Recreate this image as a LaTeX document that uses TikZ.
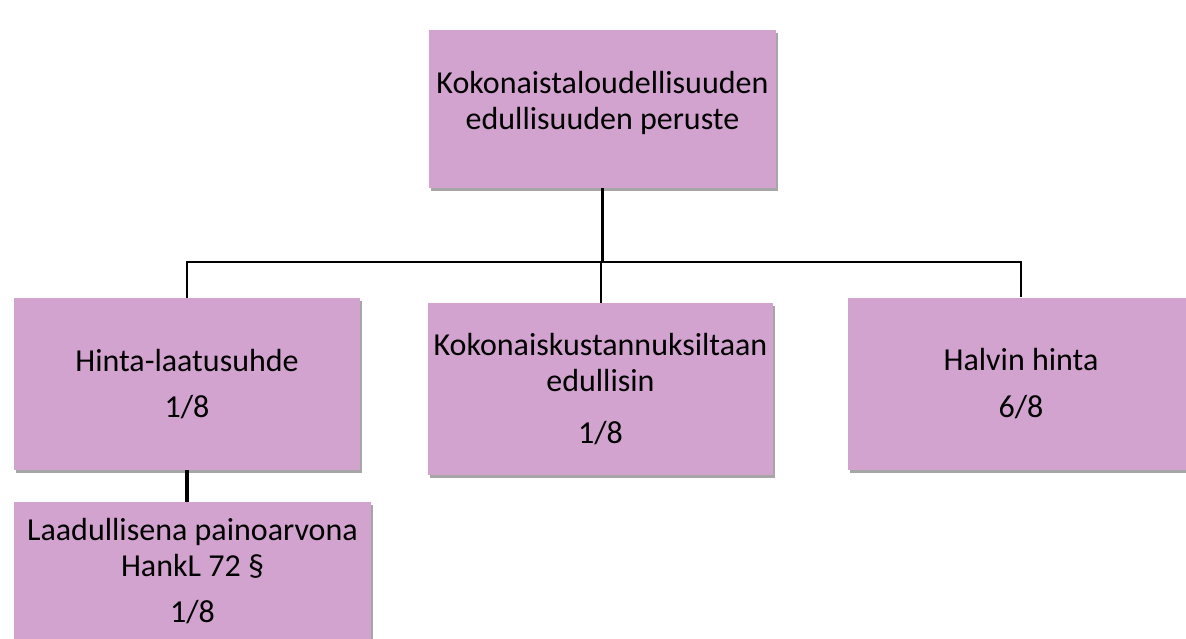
\documentclass[tikz,border=0pt]{standalone}
\usepackage{fontspec}
\setmainfont{Carlito}
\usetikzlibrary{positioning, shadows}
\definecolor{P}{RGB}{211,163,207}
\tikzstyle{box} = [rectangle,
fill=P,
text=black,
align=center,
inner sep=0pt,
font=\fontsize{24}{27}\selectfont,
drop shadow={shadow xshift=1.5pt, shadow yshift=-2.5pt, opacity=.35, fill=black}]
\tikzstyle{line} = [line width=1.5pt, black]
\tikzstyle{thickline} = [line width=3pt, black]

\begin{document}
\begin{tikzpicture}[
  x=0.75pt, y=-0.75pt, % pixel grid, y downwards
]
  \useasboundingbox (0,0) rectangle (1186,639);

  \node[box, minimum width=260pt, minimum height=118.5pt] (top) at (602.5,109)
    {Kokonaistaloudellisuuden\\edullisuuden peruste\rule[-13pt]{0pt}{0pt}};

  \node[box, minimum width=259.5pt, minimum height=129pt] (hinta)     at (187,384)   {Hinta-laatusuhde\\[8pt]1/8};
  \node[box, minimum width=259pt,   minimum height=129pt] (kustannus) at (600.5,389) {Kokonaiskustannuksiltaan\\edullisin\\[12pt]1/8};
  \node[box, minimum width=259.5pt, minimum height=129pt] (halvin)    at (1021,383.5) {Halvin hinta\\[8pt]6/8};

  \node[box, minimum width=268pt, minimum height=103.5pt] (laatu) at (192.5,571)
    {Laadullisena painoarvona\\HankL 72 \S\\[8pt]1/8};

  \draw[line, line width=2.2pt] (top.south) -- ++(0,74) coordinate (bus);
  \draw[line] (bus) -| (hinta.north);
  \draw[line] (bus) -| (halvin.north);
  \draw[line] (bus) -| (kustannus.north);

  \draw[thickline] (hinta.south) -- (hinta.south |- laatu.north);
\end{tikzpicture}
\end{document}
